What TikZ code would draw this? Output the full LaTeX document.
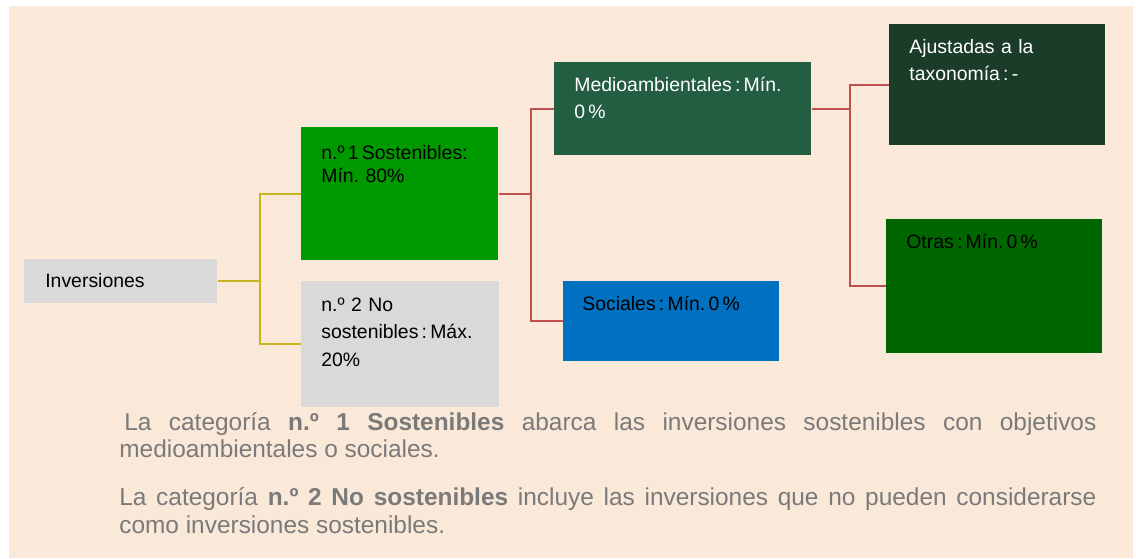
\documentclass[tikz,border=0pt]{standalone}
\usepackage{fontspec}
\setmainfont{Liberation Sans}
\usetikzlibrary{positioning,calc}
\frenchspacing

\definecolor{fondo}{HTML}{FAE8D8}
\definecolor{gris}{HTML}{D9D9D9}
\definecolor{verde}{HTML}{009900}
\definecolor{verdemedio}{HTML}{245E42}
\definecolor{verdeoscuro}{HTML}{1A3C28}
\definecolor{verdeotras}{HTML}{006600}
\definecolor{azul}{HTML}{0070C0}
\definecolor{amarillo}{HTML}{C8B51E}
\definecolor{rojo}{HTML}{C0504D}
\definecolor{textogris}{HTML}{7A7A7A}

\begin{document}
\begin{tikzpicture}[x=0.02cm,y=-0.02cm,
                    caja/.style={rectangle,inner sep=0pt,anchor=north west},
                    medidas/.style 2 args={minimum width=#1*0.02cm,minimum height=#2*0.02cm},
                    texto/.style={anchor=base west,inner sep=0pt,align=left,text width=5cm,
                                  font=\fontsize{11.05pt}{15.9pt}\selectfont},
                    amarilla/.style={draw=amarillo,line width=1.1pt},
                    roja/.style={draw=rojo,line width=1.2pt}]

  \useasboundingbox[fill=white] (0,0) rectangle (1136,558);
  \fill[fondo] (9,6) rectangle (1133,558);

  \node[caja,fill=gris,medidas={193}{44}]         (inv)    at (24,259)  {};
  \node[caja,fill=verde,medidas={197}{133}]       (sost)   at (301,127) {};
  \node[caja,fill=gris,medidas={198}{126}]        (nosost) at (301,281) {};
  \node[caja,fill=verdemedio,medidas={257}{93}]   (medio)  at (554,62)  {};
  \node[caja,fill=azul,medidas={216}{80}]         (social) at (563,281) {};
  \node[caja,fill=verdeoscuro,medidas={216}{121}] (ajust)  at (889,24)  {};
  \node[caja,fill=verdeotras,medidas={216}{134}]  (otras)  at (886,219) {};

  \node[texto] (invtxt)    at ($(inv.north west)+(21,28)$)    {Inversiones};
  \node[texto,font=\fontsize{11.05pt}{13.6pt}\selectfont]
               (sosttxt)   at ($(sost.north west)+(20,32)$)   {n.º\,1\,Sostenibles:\\Mín. 80\%};
  \node[texto] (nososttxt) at ($(nosost.north west)+(20,30)$) {n.º 2 No\\sostenibles\,:\,Máx.\\20\%};
  \node[texto,text=white]
               (mediotxt)  at ($(medio.north west)+(20,29)$)  {Medioambientales\,:\,Mín.\\0\,\%};
  \node[texto] (socialtxt) at ($(social.north west)+(19,29)$) {Sociales\,:\,Mín.\,0\,\%};
  \node[texto,text=white]
               (ajusttxt)  at ($(ajust.north west)+(20,29)$)  {Ajustadas a la\\taxonomía\,:\,-};
  \node[texto] (otrastxt)  at ($(otras.north west)+(20,29)$)  {Otras\,:\,Mín.\,0\,\%};

  \draw[amarilla] (inv.east) -- ++(42,0) coordinate (ramaA) |- (sost.west);
  \draw[amarilla] (ramaA) |- (nosost.west);
  \draw[roja] (sost.east) -- ++(32,0) coordinate (ramaB) |- (medio.west);
  \draw[roja] (ramaB) |- (social.west);
  \draw[roja] (medio.east) -- ++(38,0) coordinate (ramaC) |- (ajust.west);
  \draw[roja] (ramaC) |- (otras.west);

  \node[anchor=base west,inner sep=0pt,text width=977*0.02cm,align=justify,text=textogris,
        font=\fontsize{13.9pt}{15.9pt}\selectfont]
       (nota) at (119,430)
       {\hyphenpenalty=10000 \tolerance=10000
        \hspace*{0.1cm}La categoría \textbf{n.º 1 Sostenibles} abarca las inversiones sostenibles con objetivos medioambientales o sociales.\par
        \vspace{11.4pt}
        La categoría \textbf{n.º 2 No sostenibles} incluye las inversiones que no pueden considerarse como inversiones sostenibles.};
\end{tikzpicture}
\end{document}
